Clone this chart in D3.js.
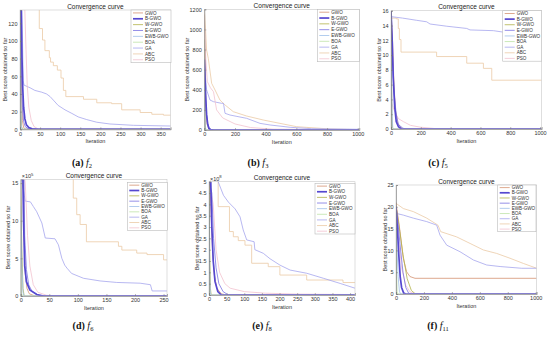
<!DOCTYPE html>
<html><head><meta charset="utf-8">
<script src="https://cdn.jsdelivr.net/npm/d3@7"></script>
<style>body{margin:0;background:#fff}svg{display:block}</style>
</head><body><svg id="c" width="550" height="337"></svg>
<script>
// ---------------- DATA ----------------
const seriesNames = ["GWO","B-GWO","W-GWO","E-GWO","EWB-GWO","BOA","GA","ABC","PSO"];
const panelIds = ["f2","f3","f5","f6","f8","f11"];
const panelLetters = ["a","b","c","d","e","f"];
const panelSubs = ["2","3","5","6","8","11"];
const xMaxes = [375,1010,1011,256,414,1007];
const yMaxes = [135,1200,16,15.5,5,25];
const xTicksF2 = [0,50,100,150,200,250,300,350];
const yTicksF2 = [0,20,40,60,80,100,120];
const xTicksF3 = [0,200,400,600,800,1000];
const yTicksF3 = [0,200,400,600,800,1000,1200];
const xTicksF5 = [0,200,400,600,800,1000];
const yTicksF5 = [0,2,4,6,8,10,12,14,16];
const xTicksF6 = [0,50,100,150,200,250];
const yTicksF6 = [0,5,10,15];
const xTicksF8 = [0,50,100,150,200,250,300,350,400];
const yTicksF8 = [0,0.5,1,1.5,2,2.5,3,3.5,4,4.5,5];
const xTicksF11 = [0,200,400,600,800,1000];
const yTicksF11 = [0,5,10,15,20,25];
const yExponents = [null,null,null,"5","8",null];

// f2
const f2_GWO = [[0,140],[2,135],[4,40],[6,10],[9,2],[14,0.3],[20,0],[375,0]];
const f2_BGWO = [[0,140],[3,135],[5,80],[7,45],[9,25],[12,12],[16,5],[22,2],[30,0.6],[45,0],[375,0]];
const f2_WGWO = [[0,140],[1,135],[2,30],[4,3],[6,0],[375,0]];
const f2_EGWO = [[0,140],[2,135],[4,60],[6,25],[9,9],[13,3],[20,0.8],[30,0],[375,0]];
const f2_EWBGWO = [[0,135],[1,60],[3,5],[5,0],[375,0]];
const f2_BOA = [[0,20],[1,5],[2,0],[375,0]];
const f2_GA = [[0,140],[5,135],[8,55],[10,50],[25,47],[37,44],[54,42],[66,40],[75,37],[83,33],[95,27],[112,22],[129,18],[145,14],[166,11],[191,8],[224,6],[282,4.5],[375,3.7]];
const f2_ABC = [[0,150],[48,114],[56,101],[62,89],[73,81],[76,76],[83,72],[93,67],[102,58],[108,44],[114,37],[158,34],[191,30],[228,29],[253,22],[299,19],[328,17],[357,16],[375,16]];
const f2_PSO = [[0,140],[12,135],[15,90],[18,50],[22,25],[28,10],[35,3],[45,0.5],[60,0],[375,0]];
// f3
const f3_GWO = [[0,1150],[5,600],[10,250],[18,60],[30,10],[50,0],[1010,0]];
const f3_BGWO = [[0,700],[5,500],[10,300],[15,150],[22,60],[30,15],[40,3],[60,0],[1010,0]];
const f3_WGWO = [[0,900],[3,300],[6,50],[10,5],[15,0],[1010,0]];
const f3_EGWO = [[0,650],[6,400],[12,200],[20,80],[30,25],[45,5],[70,0],[1010,0]];
const f3_EWBGWO = [[0,600],[3,150],[6,20],[10,0],[1010,0]];
const f3_BOA = [[0,300],[2,20],[4,0],[1010,0]];
const f3_GA = [[0,900],[8,520],[15,400],[37,298],[59,282],[113,265],[125,265],[135,166],[167,149],[276,116],[363,66],[428,50],[559,27],[700,13],[1010,7]];
const f3_ABC = [[0,1200],[8,1000],[15,795],[26,713],[48,464],[70,398],[102,298],[135,249],[189,182],[276,139],[385,99],[493,66],[602,33],[820,10],[1010,3]];
const f3_PSO = [[0,1100],[10,700],[20,480],[40,420],[60,380],[80,200],[120,120],[200,60],[300,25],[450,8],[1010,2]];
// f5
const f5_GWO = [[0,16],[10,12],[20,6],[30,2.5],[45,0.8],[70,0.1],[100,0],[1011,0]];
const f5_BGWO = [[0,16],[8,12],[15,7],[25,3],[35,1],[50,0.3],[70,0],[1011,0]];
const f5_WGWO = [[0,16],[3,8],[6,2],[10,0.2],[15,0],[1011,0]];
const f5_EGWO = [[0,15],[10,10],[20,5],[35,2],[50,0.6],[80,0.1],[110,0],[1011,0]];
const f5_EWBGWO = [[0,14],[4,6],[8,1.5],[12,0.2],[20,0],[1011,0]];
const f5_BOA = [[0,8],[2,1],[4,0],[1011,0]];
const f5_GA = [[0,15.2],[78,15],[172,14.7],[239,14.5],[262,14.2],[374,13.9],[508,13.6],[530,13.4],[687,13.3],[754,13.1],[880,12.9],[1011,12.8]];
const f5_ABC = [[0,15],[36,14.9],[49,13.6],[56,12.1],[67,10.4],[306,9.8],[508,8.9],[620,8.2],[676,6.6],[1011,6.6]];
const f5_PSO = [[0,10],[5,3.5],[20,2.6],[50,1.4],[83,1.0],[130,0.5],[195,0.25],[300,0.05],[400,0],[1011,0]];
// f6
const f6_GWO = [[0,20],[4,20],[6,8],[8,3],[11,1],[15,0.3],[25,0],[256,0]];
const f6_BGWO = [[0,20],[3,20],[5,10],[7,4],[10,1.9],[16,0.8],[28,0.2],[40,0],[256,0]];
const f6_WGWO = [[0,15],[2,6],[4,1],[6,0],[256,0]];
const f6_EGWO = [[0,20],[5,20],[7,8],[10,3.5],[14,1.5],[20,0.6],[32,0.1],[45,0],[256,0]];
const f6_EWBGWO = [[0,12],[2,4],[4,0.5],[6,0],[256,0]];
const f6_BOA = [[0,5],[1,0.5],[3,0],[256,0]];
const f6_GA = [[0,16],[5,14],[8,12.6],[17,12.5],[22,11.9],[28,11.2],[37,9.7],[43,7.7],[60,7.6],[66,6.8],[72,5.0],[77,4.1],[81,3.7],[89,3.0],[110,2.35],[139,2.0],[168,1.8],[209,1.7],[227,1.5],[230,0.67],[256,0.67]];
const f6_ABC = [[0,20],[92,13],[98,10.8],[104,9.5],[115,7.2],[171,6.6],[177,6.1],[203,5.7],[221,5.5],[250,4.8],[256,4.8]];
const f6_PSO = [[0,20],[8,15],[12,8],[16,4],[22,1.5],[30,0.5],[45,0.1],[60,0],[256,0]];
// f8
const f8_GWO = [[0,6],[5,4],[10,2],[15,0.9],[22,0.3],[35,0.05],[50,0],[414,0]];
const f8_BGWO = [[0,5],[5,5],[8,3],[12,1.5],[17,0.6],[25,0.15],[35,0],[414,0]];
const f8_WGWO = [[0,5],[2,2],[4,0.3],[6,0],[414,0]];
const f8_EGWO = [[0,5],[8,4.5],[13,2.5],[20,1.2],[28,0.5],[40,0.15],[55,0],[414,0]];
const f8_EWBGWO = [[0,4],[2,1],[4,0.1],[6,0],[414,0]];
const f8_BOA = [[0,2],[1,0.2],[3,0],[414,0]];
const f8_GA = [[0,6],[26,5],[41,4.4],[55,4.1],[74,3.8],[88,3.45],[97,2.87],[107,2.43],[128,2.35],[130,2.0],[154,1.84],[173,1.6],[201,1.32],[230,1.1],[277,0.96],[324,0.74],[372,0.51],[414,0.3]];
const f8_ABC = [[0,6],[26,3.9],[58,2.8],[69,2.57],[83,2.4],[102,2.2],[121,1.4],[168,1.25],[201,0.88],[277,0.66],[380,0.55],[414,0.55]];
const f8_PSO = [[0,5],[12,4],[20,2],[30,1],[45,0.5],[60,0.3],[100,0.15],[160,0.08],[250,0.04],[414,0.02]];
// f11
const f11_GWO = [[0,21],[29,14.3],[52,8.2],[76,5.1],[100,4.0],[136,3.6],[1007,3.6]];
const f11_BGWO = [[0,20],[10,15],[20,9],[30,4],[40,1.5],[55,0.2],[70,0],[1007,0]];
const f11_WGWO = [[0,20],[20,16],[50,9],[80,3.5],[110,0.8],[140,0],[1007,0]];
const f11_EGWO = [[0,20],[15,16],[30,11],[50,5],[70,1.5],[90,0.2],[110,0],[1007,0]];
const f11_EWBGWO = [[0,19],[8,10],[15,4],[25,0.5],[35,0],[1007,0]];
const f11_BOA = [[0,18],[4,5],[8,0.5],[12,0],[1007,0]];
const f11_GA = [[0,18.5],[52,18.1],[124,17.4],[220,16.6],[291,15.8],[315,13.5],[363,11.2],[458,9.7],[554,7.8],[649,6.65],[745,6.3],[900,5.9],[1007,5.9]];
const f11_ABC = [[0,20.8],[52,19.6],[124,18.9],[220,17.4],[300,15.8],[320,14.3],[434,13.1],[530,11.6],[625,10.1],[721,9.3],[816,8.2],[912,7.0],[1007,5.9]];
const f11_PSO = [[0,20],[20,12],[40,6],[70,2],[100,0.5],[140,0],[1007,0]];

// ---------------- ASSEMBLY ----------------
const panelSeries = [
  [f2_GWO,f2_BGWO,f2_WGWO,f2_EGWO,f2_EWBGWO,f2_BOA,f2_GA,f2_ABC,f2_PSO],
  [f3_GWO,f3_BGWO,f3_WGWO,f3_EGWO,f3_EWBGWO,f3_BOA,f3_GA,f3_ABC,f3_PSO],
  [f5_GWO,f5_BGWO,f5_WGWO,f5_EGWO,f5_EWBGWO,f5_BOA,f5_GA,f5_ABC,f5_PSO],
  [f6_GWO,f6_BGWO,f6_WGWO,f6_EGWO,f6_EWBGWO,f6_BOA,f6_GA,f6_ABC,f6_PSO],
  [f8_GWO,f8_BGWO,f8_WGWO,f8_EGWO,f8_EWBGWO,f8_BOA,f8_GA,f8_ABC,f8_PSO],
  [f11_GWO,f11_BGWO,f11_WGWO,f11_EGWO,f11_EWBGWO,f11_BOA,f11_GA,f11_ABC,f11_PSO]
];
const panelXTicks = [xTicksF2,xTicksF3,xTicksF5,xTicksF6,xTicksF8,xTicksF11];
const panelYTicks = [yTicksF2,yTicksF3,yTicksF5,yTicksF6,yTicksF8,yTicksF11];

// ---------------- STYLE / LAYOUT ----------------
const colors = {"GWO":"#d49372","B-GWO":"#5548d0","W-GWO":"#b3b24a","E-GWO":"#7a72e2","EWB-GWO":"#9fc0ea",
  "BOA":"#bfe3a8","GA":"#a6a6ee","ABC":"#ebcaa6","PSO":"#f3c3cf"};
const widths = {"B-GWO":1.7};
const stepPanels = [true,false,true,true,true,false];
const layout = [
  {L:20,R:170.7,T:10,B:129.3, lg:[131,10,40,52.7], yl:5, cap:[82,166]},
  {L:204.3,R:359.3,T:9.3,B:130, lg:[317.3,9.3,42,52.4], yl:187, cap:[258,166]},
  {L:391,R:541.7,T:10.7,B:129, lg:[502.7,10.7,39,50.5], yl:379, cap:[438,166]},
  {L:20.7,R:167,T:179.3,B:296, lg:[127.3,182.5,40,48], yl:8, cap:[83,329]},
  {L:209,R:355,T:181.7,B:295, lg:[315,183.3,40,50.7], yl:197, cap:[262,329]},
  {L:396,R:536.7,T:185,B:294, lg:[497.7,185,38.3,46.7], yl:385, cap:[438,329]}
];
const sans = "'Liberation Sans', Arial, sans-serif";
const svg = d3.select("#c");

panelIds.forEach((pid,i)=>{
  const lo = layout[i];
  const x = d3.scaleLinear().domain([0,xMaxes[i]]).range([lo.L,lo.R]);
  const y = d3.scaleLinear().domain([0,yMaxes[i]]).range([lo.B,lo.T]);
  const g = svg.append("g");
  g.append("clipPath").attr("id","clip"+pid).append("rect")
    .attr("x",lo.L).attr("y",lo.T).attr("width",lo.R-lo.L).attr("height",lo.B-lo.T);
  // curves
  const cg = g.append("g").attr("clip-path","url(#clip"+pid+")");
  const order = [7,6,8,0,2,5,4,3,1];
  order.forEach(k=>{
    const name = seriesNames[k];
    const line = d3.line().x(d=>x(d[0])).y(d=>y(d[1]))
      .curve(name==="ABC" && stepPanels[i] ? d3.curveStepAfter : d3.curveLinear);
    cg.append("path").attr("d",line(panelSeries[i][k])).attr("fill","none")
      .attr("stroke",colors[name]).attr("stroke-width",widths[name]||0.8);
  });
  // box
  g.append("rect").attr("x",lo.L).attr("y",lo.T).attr("width",lo.R-lo.L).attr("height",lo.B-lo.T)
    .attr("fill","none").attr("stroke","#c8c8c8").attr("stroke-width",0.6);
  const fmt = d3.format("~g");
  const xa = g.append("g").attr("transform",`translate(0,${lo.B})`)
    .call(d3.axisBottom(x).tickValues(panelXTicks[i]).tickSize(-2).tickPadding(2.5).tickFormat(fmt));
  const ya = g.append("g").attr("transform",`translate(${lo.L},0)`)
    .call(d3.axisLeft(y).tickValues(panelYTicks[i]).tickSize(-2).tickPadding(2.5).tickFormat(fmt));
  [xa,ya].forEach(a=>{
    a.select(".domain").attr("stroke","#777").attr("stroke-width",0.6);
    a.selectAll(".tick line").attr("stroke","#777").attr("stroke-width",0.5);
    a.selectAll(".tick text").attr("font-family",sans).attr("font-size",5.5).attr("fill","#333");
  });
  // exponent
  if(yExponents[i]){
    const t = g.append("text").attr("x",lo.L+1).attr("y",lo.T-1).attr("font-family",sans)
      .attr("font-size",5.5).attr("fill","#333").text("×10");
    t.append("tspan").attr("dy",-2.5).attr("font-size",4.2).text(yExponents[i]);
  }
  // title
  g.append("text").attr("x",(lo.L+lo.R)/2).attr("y",lo.T-1.5).attr("text-anchor","middle")
    .attr("font-family",sans).attr("font-size",6.5).attr("fill","#222").text("Convergence curve");
  // axis labels
  g.append("text").attr("x",(lo.L+lo.R)/2).attr("y",lo.B+14).attr("text-anchor","middle")
    .attr("font-family",sans).attr("font-size",5.5).attr("fill","#333").text("Iteration");
  g.append("text").attr("transform",`translate(${lo.yl},${(lo.T+lo.B)/2}) rotate(-90)`)
    .attr("text-anchor","middle").attr("dy","0.35em")
    .attr("font-family",sans).attr("font-size",5.5).attr("fill","#333").text("Best score obtained so far");
  // legend
  const [lx,ly,lw,lh] = lo.lg;
  const lg = g.append("g");
  lg.append("rect").attr("x",lx).attr("y",ly).attr("width",lw).attr("height",lh)
    .attr("fill","#fff").attr("stroke","#bbb").attr("stroke-width",0.6);
  const step = lh/seriesNames.length;
  seriesNames.forEach((name,k)=>{
    const yy = ly + step*(k+0.5);
    lg.append("line").attr("x1",lx+2).attr("x2",lx+12).attr("y1",yy).attr("y2",yy)
      .attr("stroke",colors[name]).attr("stroke-width",widths[name]||0.8);
    lg.append("text").attr("x",lx+14).attr("y",yy).attr("dy","0.35em")
      .attr("font-family",sans).attr("font-size",4.6).attr("fill","#333").text(name);
  });
  // caption
  const cap = svg.append("text").attr("x",lo.cap[0]).attr("y",lo.cap[1]).attr("text-anchor","middle")
    .attr("font-family","'Liberation Serif', 'Times New Roman', serif").attr("font-size",10).attr("fill","#111");
  cap.append("tspan").attr("font-weight","bold").text("("+panelLetters[i]+")");
  cap.append("tspan").text(" ");
  cap.append("tspan").attr("font-style","italic").text("f");
  cap.append("tspan").attr("font-size",6.5).attr("dy",2).text(panelSubs[i]);
});
</script></body></html>
